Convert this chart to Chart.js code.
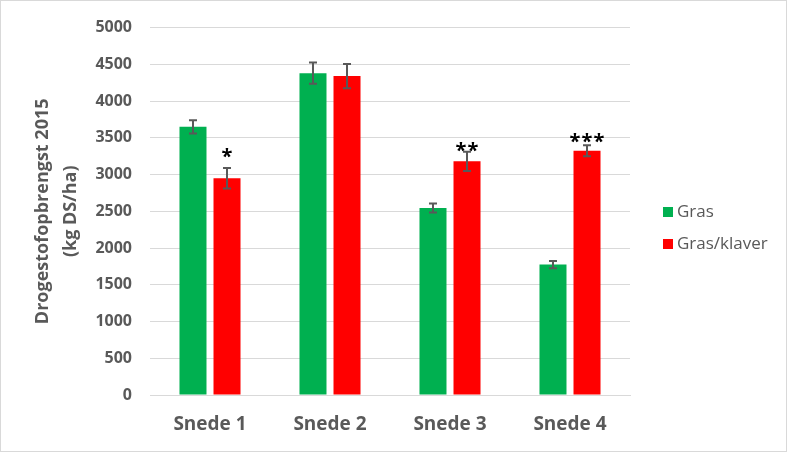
<!DOCTYPE html>
<html>
<head>
<meta charset="utf-8">
<script src="https://cdn.jsdelivr.net/npm/chart.js@4/dist/chart.umd.min.js"></script>
<style>
  html, body { margin: 0; padding: 0; background: #ffffff; }
  #wrap { width: 787px; height: 452px; }
</style>
</head>
<body>
<div id="wrap"><canvas id="c" width="787" height="452"></canvas></div>
<script>
// ---- data ----
const categories = ['Snede 1', 'Snede 2', 'Snede 3', 'Snede 4'];
const seriesNames = ['Gras', 'Gras/klaver'];
const grasValues = [3650, 4380, 2545, 1775];
const grasErrors = [90, 145, 60, 50];
const klaverValues = [2950, 4340, 3180, 3325];
const klaverErrors = [140, 165, 130, 75];
const significance = ['*', '', '**', '***'];
const significanceValue = [3290, null, 3380, 3500];
const yTicks = [0, 500, 1000, 1500, 2000, 2500, 3000, 3500, 4000, 4500, 5000];
const yTitle = ['Drogestofopbrengst 2015', '(kg DS/ha)'];

const FONT = "'Open Sans', 'Noto Sans', sans-serif";
const GREY = '#595959';
const GRID = '#d9d9d9';

const errorBarPlugin = {
  id: 'errorBars',
  afterDatasetsDraw(chart) {
    const ctx = chart.ctx;
    const y = chart.scales.y;
    ctx.save();
    ctx.strokeStyle = GREY;
    ctx.lineWidth = 2;
    chart.data.datasets.forEach((ds, di) => {
      const meta = chart.getDatasetMeta(di);
      meta.data.forEach((bar, i) => {
        const v = ds.data[i], e = ds.errors[i];
        const x = bar.x;
        const top = y.getPixelForValue(v + e);
        const bot = y.getPixelForValue(v - e);
        ctx.beginPath();
        ctx.moveTo(x, top); ctx.lineTo(x, bot);
        ctx.moveTo(x - 4, top); ctx.lineTo(x + 4, top);
        ctx.moveTo(x - 4, bot); ctx.lineTo(x + 4, bot);
        ctx.stroke();
      });
    });
    // significance stars above the Gras/klaver bars
    const meta = chart.getDatasetMeta(1);
    ctx.fillStyle = '#000000';
    ctx.font = 'bold 20px ' + FONT;
    ctx.textAlign = 'left';
    ctx.textBaseline = 'alphabetic';
    meta.data.forEach((bar, i) => {
      const s = significance[i];
      if (!s || significanceValue[i] == null) return;
      const cy = y.getPixelForValue(significanceValue[i]);
      const m = ctx.measureText('*');
      const asc = m.actualBoundingBoxAscent, desc = m.actualBoundingBoxDescent;
      const pitch = 12;
      const total = (s.length - 1) * pitch;
      for (let k = 0; k < s.length; k++) {
        const cx = bar.x - total / 2 + k * pitch;
        ctx.fillText('*', cx - m.width / 2, cy + (asc - desc) / 2);
      }
    });
    ctx.restore();
  }
};

const frameLegendPlugin = {
  id: 'frameLegend',
  beforeDraw(chart) {
    const ctx = chart.ctx;
    ctx.save();
    ctx.fillStyle = '#ffffff';
    ctx.fillRect(0, 0, chart.width, chart.height);
    ctx.restore();
  },
  afterDraw(chart) {
    const ctx = chart.ctx;
    ctx.save();
    ctx.strokeStyle = GRID;
    ctx.lineWidth = 1;
    ctx.strokeRect(0.5, 0.5, chart.width - 1, chart.height - 1);
    // legend
    ctx.font = '17px ' + FONT;
    ctx.textAlign = 'left';
    ctx.textBaseline = 'middle';
    chart.data.datasets.forEach((ds, i) => {
      const cy = 212 + i * 32;
      ctx.fillStyle = ds.backgroundColor;
      ctx.fillRect(663, cy - 5, 10, 10);
      ctx.fillStyle = GREY;
      ctx.fillText(ds.label, 677, cy);
    });
    ctx.restore();
  }
};

new Chart(document.getElementById('c'), {
  type: 'bar',
  data: {
    labels: categories,
    datasets: [
      { label: seriesNames[0], data: grasValues, errors: grasErrors, backgroundColor: '#00b050',
        categoryPercentage: 0.567, barPercentage: 0.794 },
      { label: seriesNames[1], data: klaverValues, errors: klaverErrors, backgroundColor: '#ff0000',
        categoryPercentage: 0.567, barPercentage: 0.794 }
    ]
  },
  options: {
    responsive: false,
    animation: false,
    devicePixelRatio: 1,
    layout: { padding: { left: 0, right: 157, top: 24, bottom: 0 } },
    plugins: { legend: { display: false }, tooltip: { enabled: false } },
    scales: {
      x: {
        grid: { display: false, drawTicks: false },
        border: { display: true, color: GRID, width: 1 },
        ticks: { color: GREY, font: { family: FONT, size: 19, weight: 'bold' }, padding: 18 },
        afterFit(scale) { scale.height = 57; }
      },
      y: {
        min: 0, max: 5000,
        afterBuildTicks(scale) { scale.ticks = yTicks.map(v => ({ value: v })); },
        grid: { color: GRID, lineWidth: 1, drawTicks: false },
        border: { display: false },
        ticks: {
          color: GREY, font: { family: FONT, size: 16, weight: 'bold' }, padding: 18,
          callback: (v) => String(v)
        },
        title: {
          display: true, text: yTitle, color: GREY,
          font: { family: FONT, size: 18, weight: 'bold', lineHeight: 1.55 },
          padding: { top: 29, bottom: 0 }
        },
        afterFit(scale) { scale.width = 150; }
      }
    }
  },
  plugins: [errorBarPlugin, frameLegendPlugin]
});
</script>
</body>
</html>
